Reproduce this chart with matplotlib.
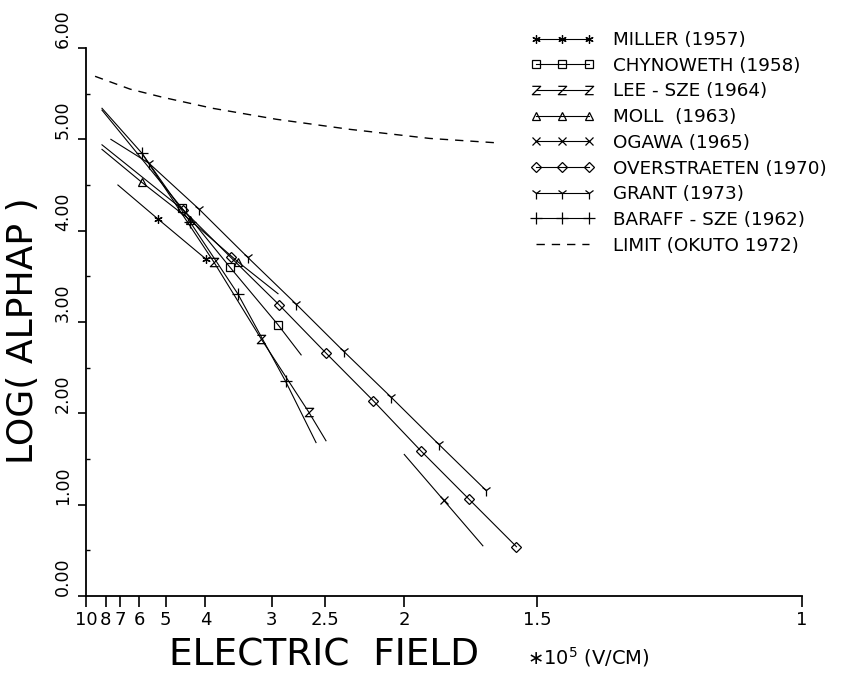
import numpy as np
import matplotlib
matplotlib.use("Agg")
import matplotlib.pyplot as plt
from matplotlib.path import Path

# values: field E in 1e5 V/cm, log10 of alpha_p
miller_e = [7.14, 5.26, 3.99]
miller_y = [4.50, 4.13, 3.69]

chynoweth_e = [8.33, 4.54, 3.56, 2.93, 2.70]
chynoweth_y = [5.32, 4.25, 3.60, 2.97, 2.64]

leesze_e = [5.88, 3.84, 3.12, 2.63, 2.49]
leesze_y = [4.85, 3.66, 2.81, 2.01, 1.70]

moll_e = [8.33, 5.88, 4.34, 3.44, 2.93]
moll_y = [4.89, 4.53, 4.12, 3.66, 3.31]

ogawa_e = [2.00, 1.82, 1.67]
ogawa_y = [1.55, 1.05, 0.55]

overstraeten_e = [8.33, 4.51, 3.55, 2.92, 2.49, 2.17, 1.92, 1.72, 1.56]
overstraeten_y = [4.94, 4.23, 3.71, 3.19, 2.66, 2.14, 1.59, 1.06, 0.54]

grant_e = [7.62, 5.59, 4.14, 3.30, 2.75, 2.36, 2.07, 1.84, 1.66]
grant_y = [5.00, 4.74, 4.24, 3.71, 3.20, 2.68, 2.18, 1.66, 1.16]

baraff_e = [8.33, 5.88, 4.34, 3.44, 2.85, 2.57]
baraff_y = [5.34, 4.85, 4.10, 3.31, 2.35, 1.68]

limit_e = [8.98, 6.44, 5.09, 3.86, 2.95, 2.32, 1.88, 1.615]
limit_y = [5.69, 5.55, 5.46, 5.34, 5.22, 5.11, 5.01, 4.96]

xticks = [10, 8, 7, 6, 5, 4, 3, 2.5, 2, 1.5, 1]
xticklabels = ["10", "8", "7", "6", "5", "4", "3", "2.5", "2", "1.5", "1"]
yticks = [0, 1, 2, 3, 4, 5, 6]
yticklabels = ["0.00", "1.00", "2.00", "3.00", "4.00", "5.00", "6.00"]

plt.rcParams["font.family"] = "DejaVu Sans"


def fwd(x):
    x = np.asarray(x, dtype=float)
    with np.errstate(divide="ignore"):
        return -1.0 / x


fig = plt.figure(figsize=(8.41, 6.77), dpi=100)
ax = fig.add_axes([0.1023, 0.1196, 0.8514, 0.8095])
ax.set_xscale("function", functions=(fwd, fwd))
ax.set_xlim(10, 1)
ax.set_ylim(0, 6)

zmark = Path([(-1, 1), (1, 1), (-1, -1), (1, -1)])
st = dict(color="black", lw=0.8, mfc="none", mec="black", mew=0.9, ms=6)

ax.plot(miller_e, miller_y, marker=(6, 2, 0), markevery=[1, 2], label="MILLER (1957)", **st)
ax.plot(chynoweth_e, chynoweth_y, marker="s", markevery=[1, 2, 3], label="CHYNOWETH (1958)", **st)
ax.plot(leesze_e, leesze_y, marker=zmark, markevery=[1, 2, 3], label="LEE - SZE (1964)", **st)
ax.plot(moll_e, moll_y, marker="^", markevery=[1, 2, 3], label="MOLL  (1963)", **st)
ax.plot(ogawa_e, ogawa_y, marker="x", markevery=[1], label="OGAWA (1965)", **st)
ax.plot(overstraeten_e, overstraeten_y, marker="D", markevery=list(range(1, 9)),
        label="OVERSTRAETEN (1970)", **{**st, "ms": 5.5})
ax.plot(grant_e, grant_y, marker="1", markevery=list(range(1, 9)), label="GRANT (1973)", **{**st, "ms": 8})
ax.plot(baraff_e, baraff_y, marker="+", markevery=[1, 2, 3, 4], label="BARAFF - SZE (1962)", **{**st, "ms": 8})
ax.plot(limit_e, limit_y, color="black", lw=1.0, ls=(0, (6, 5)), label="LIMIT (OKUTO 1972)")

ax.spines["top"].set_visible(False)
ax.spines["right"].set_visible(False)
for s in ["left", "bottom"]:
    ax.spines[s].set_linewidth(1.3)

ax.set_xticks(xticks)
ax.set_xticklabels(xticklabels, fontsize=13)
ax.set_yticks(yticks)
ax.set_yticklabels(yticklabels, fontsize=12.5, rotation=90, va="bottom")
ax.set_yticks(np.arange(0.5, 6, 1), minor=True)
ax.xaxis.set_minor_locator(plt.NullLocator())
ax.tick_params(axis="x", which="major", direction="out", length=8, width=1.2, pad=3)
ax.tick_params(axis="y", which="major", direction="out", length=6, width=1.2, pad=4)
ax.tick_params(axis="y", which="minor", direction="in", length=3, width=1.0)

ax.set_xlabel("ELECTRIC  FIELD", fontsize=27, va="center")
ax.xaxis.set_label_coords(0.333, -0.108)
ax.text(0.701, -0.111, "\u2217" + "10$^5$ (V/CM)", transform=ax.transAxes,
        fontsize=14, ha="center", va="center")
ax.set_ylabel("LOG( ALPHAP )", fontsize=26, va="center")
ax.yaxis.set_label_coords(-0.088, 0.485)

fig.legend(loc="upper left", bbox_to_anchor=(530 / 841, 1 - 31 / 677), frameon=False,
           numpoints=3, handlelength=3.5, handletextpad=1.05, labelspacing=0.42,
           borderpad=0, borderaxespad=0, fontsize=13.2)

fig.savefig("out.png", dpi=100)
